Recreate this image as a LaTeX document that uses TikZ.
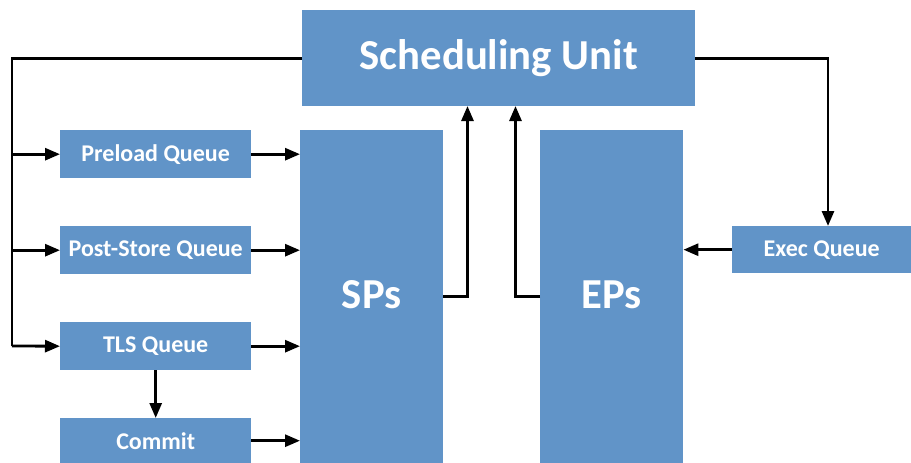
\documentclass[tikz,border=0pt]{standalone}
\usepackage{fontspec}
\setmainfont{Carlito}
\usetikzlibrary{arrows.meta}
\definecolor{boxblue}{RGB}{97,148,200}
\begin{document}
\begin{tikzpicture}[x=1pt,y=-1pt,
  box/.style={fill=boxblue,draw=none,inner sep=0pt,anchor=north west,text=white,font=\bfseries},
  small/.style={box,font=\fontsize{24}{28}\selectfont\bfseries},
  big/.style={box,font=\fontsize{42.7}{48}\selectfont\bfseries},
  conn/.style={line width=2.8pt,-{Triangle[length=15pt,width=12pt]}},
  plain/.style={line width=2.8pt}]
\useasboundingbox (0,0) rectangle (911,463);
\node[big,minimum width=393pt,minimum height=96pt] (sched) at (302,10) {Scheduling Unit};
\node[small,minimum width=191pt,minimum height=48pt] (pre) at (60,130) {Preload Queue};
\node[small,minimum width=191pt,minimum height=48pt] (post) at (60,226) {Post-Store Queue};
\node[small,minimum width=191pt,minimum height=48pt] (tls) at (60,322) {TLS Queue};
\node[small,minimum width=191pt,minimum height=45pt] (commit) at (60,418) {Commit};
\node[big,minimum width=143pt,minimum height=333pt] (sps) at (300,130) {\raisebox{4pt}{SPs}};
\node[big,minimum width=143pt,minimum height=333pt] (eps) at (540,130) {\raisebox{4pt}{EPs}};
\node[small,minimum width=179pt,minimum height=47pt] (exec) at (732,226) {Exec Queue};
\coordinate (lb) at (12,346);
\coordinate (su1) at (467.5,106);
\coordinate (su2) at (515.5,106);
\coordinate (ex1) at (828,226);
\draw[plain] (sched.west) -| (lb);
\draw[conn] (lb |- pre.west) -- (pre.west);
\draw[conn] (lb |- post.west) -- (post.west);
\draw[conn] (lb) -- (tls.west);
\draw[conn] (pre.east) -- (sps.west |- pre.east);
\draw[conn] (post.east) -- (sps.west |- post.east);
\draw[conn] (tls.east) -- (sps.west |- tls.east);
\draw[conn] (commit.east) -- (sps.west |- commit.east);
\draw[conn] (tls.south) -- (commit.north);
\draw[conn] (sps.east) -| (su1);
\draw[conn] (eps.west) -| (su2);
\draw[conn] (sched.east) -| (ex1);
\draw[conn] (exec.west) -- (eps.east |- exec.west);
\end{tikzpicture}
\end{document}
